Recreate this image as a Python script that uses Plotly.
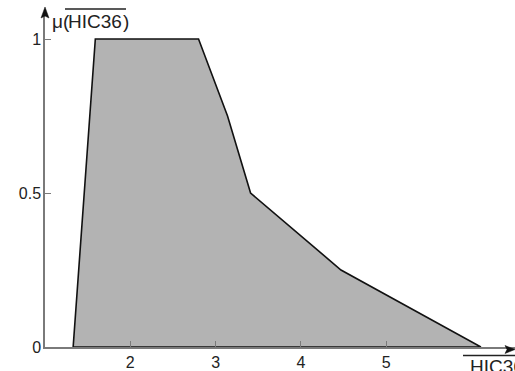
import plotly.graph_objects as go

# Membership function of the overlined HIC36 term (trapezoid-like polygon)
x_vals = [1.33, 1.59, 2.80, 3.14, 3.41, 4.47, 6.11, 1.33]
mu_vals = [0.0, 1.0, 1.0, 0.75, 0.50, 0.25, 0.0, 0.0]

x_ticks = [2, 3, 4, 5]
x_tick_text = ["2", "3", "4", "5"]
y_ticks = [0, 0.5, 1]
y_tick_text = ["0", "0.5", "1"]

W, H = 515, 371
ML, MR, MT, MB = 45, 0, 15, 24
plot_w = W - ML - MR
plot_h = H - MT - MB


def px_x(px):
    return (px - ML) / plot_w


def px_y(py):
    return (H - MB - py) / plot_h


font = dict(family="Liberation Sans, Arial, sans-serif", size=16, color="#222222")
title_font = dict(family="Liberation Sans, Arial, sans-serif", size=19, color="#222222")
axis_grey = "#7a7a7a"

fig = go.Figure()
fig.add_trace(go.Scatter(
    x=x_vals, y=mu_vals, mode="lines", fill="toself",
    fillcolor="#b3b3b3", line=dict(color="#111111", width=1.6),
    hoverinfo="skip", showlegend=False,
))

fig.update_layout(
    width=W, height=H,
    margin=dict(l=ML, r=MR, t=MT, b=MB, pad=0),
    paper_bgcolor="white", plot_bgcolor="white",
    font=font,
    xaxis=dict(range=[1, 6.51], tickvals=x_ticks, ticktext=x_tick_text,
               ticks="inside", ticklen=6, tickcolor=axis_grey, tickwidth=1.2,
               showline=True, linecolor=axis_grey, linewidth=1.5,
               showgrid=False, zeroline=False, fixedrange=True),
    yaxis=dict(range=[0, 1.078], tickvals=y_ticks, ticktext=y_tick_text,
               ticks="inside", ticklen=6, tickcolor=axis_grey, tickwidth=1.2,
               ticklabelstandoff=-1,
               showline=True, linecolor=axis_grey, linewidth=1.5,
               showgrid=False, zeroline=False, fixedrange=True),
)


def arrow_path(points):
    pts = [f"{px_x(x):.5f},{px_y(y):.5f}" for x, y in points]
    return "M " + " L ".join(pts) + " Z"


# Axis arrowheads (filled triangles)
fig.add_shape(type="path", xref="paper", yref="paper",
              path=arrow_path([(515, 349.5), (505, 345.5), (507, 349.5), (505, 353.5)]),
              fillcolor="#111111", line=dict(color="#111111", width=0.5))
fig.add_shape(type="path", xref="paper", yref="paper",
              path=arrow_path([(45, 7), (41, 18), (45, 16), (49, 18)]),
              fillcolor="#111111", line=dict(color="#111111", width=0.5))

# Y-axis title: μ( HIC36 ) with the term overlined
fig.add_annotation(xref="paper", yref="paper", x=px_x(50), y=px_y(21),
                   xanchor="left", yanchor="middle", showarrow=False,
                   text="μ(", font=title_font)
fig.add_annotation(xref="paper", yref="paper", x=px_x(66), y=px_y(21),
                   xanchor="left", yanchor="middle", showarrow=False,
                   text="HIC36", font=title_font)
fig.add_annotation(xref="paper", yref="paper", x=px_x(121), y=px_y(21),
                   xanchor="left", yanchor="middle", showarrow=False,
                   text=")", font=title_font)
fig.add_shape(type="line", xref="paper", yref="paper",
              x0=px_x(65), x1=px_x(126), y0=px_y(9), y1=px_y(9),
              line=dict(color="#222222", width=1.3))

# X-axis title, overlined
fig.add_annotation(xref="paper", yref="paper", x=px_x(468), y=px_y(366),
                   xanchor="left", yanchor="middle", showarrow=False,
                   text="HIC36", font=title_font)
fig.add_shape(type="line", xref="paper", yref="paper",
              x0=px_x(463), x1=px_x(515), y0=px_y(355.5), y1=px_y(355.5),
              line=dict(color="#222222", width=1.3))

fig.write_html("out.html")
